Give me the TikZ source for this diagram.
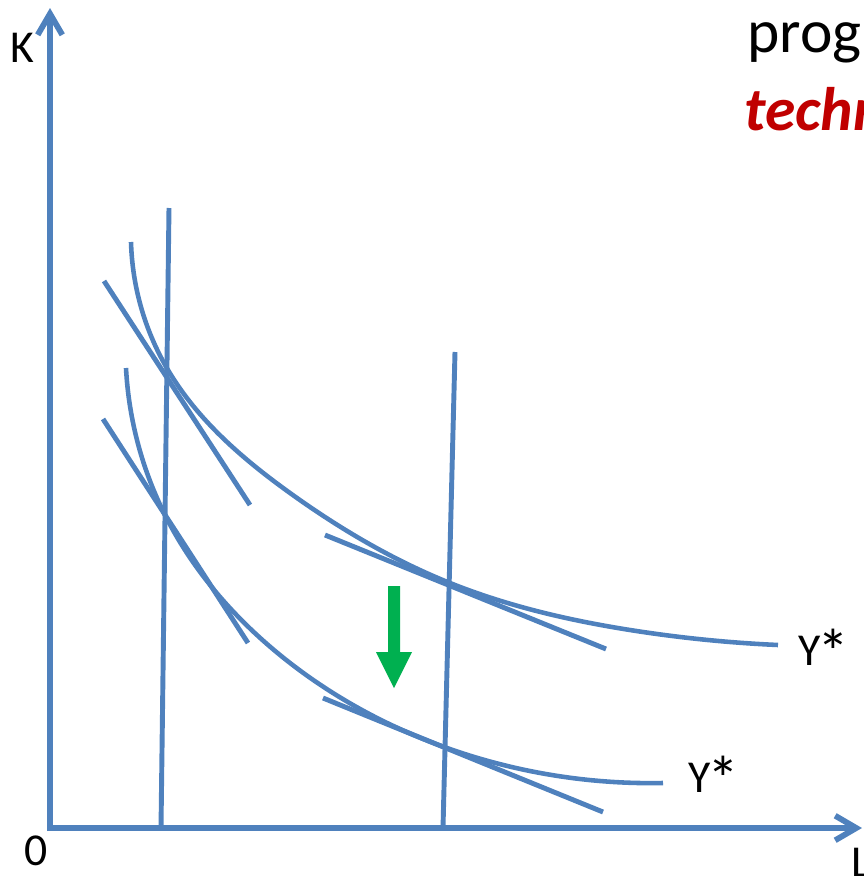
\documentclass[tikz,border=0pt]{standalone}
\usepackage{fontspec}
\setmainfont{Carlito}
\usetikzlibrary{arrows.meta,hobby}
\definecolor{axisblue}{HTML}{4F81BD}
\definecolor{shiftgreen}{HTML}{00B050}
\definecolor{titlered}{HTML}{C00000}
\newcommand{\ystar}{Y\kern-0.06em\raisebox{-0.2em}{\scalebox{1.4}{*}}}

\begin{document}
\begin{tikzpicture}[x=0.02cm, y=-0.02cm,
  axisline/.style={line width=3.3pt, draw=axisblue, -{Straight Barb[length=12pt, width=14pt]}},
  isoline/.style={line width=2.6pt, draw=axisblue, use Hobby shortcut},
  tanline/.style={line width=2.8pt, draw=axisblue},
  lbl/.style={anchor=base west, inner sep=0pt, font=\fontsize{26}{30}\selectfont},
  head/.style={anchor=base west, inner sep=0pt, font=\fontsize{35}{40}\selectfont}]
\useasboundingbox (0,0) rectangle (863,876);

% Axes
\coordinate (origin) at (50,831);
\coordinate (ktip) at (50,8);
\coordinate (xstart) at (47,828);
\coordinate (ltip) at (862,828);
\draw[axisline] (origin) -- (ktip);
\draw[axisline] (xstart) -- (ltip);
\node[lbl] (klbl) at (10,62) {K};
\node[lbl] (zero) at (24,865) {0};
\node[lbl] (llbl) at (851,877) {L};

% Heading (cut off at the right edge)
\node[head] (prog) at (747,52) {prog};
\node[head, text=titlered, font=\fontsize{35}{40}\selectfont\bfseries\itshape] (techn) at (744,130) {techn};

% Isoquants
\draw[isoline] (131,242) .. (168,370) .. (290,493) .. (450,583) .. (630,630) .. (778,645);
\draw[isoline] (126,368) .. (166,517) .. (280,655) .. (447,748) .. (663,783);
\node[lbl] (yup) at (798,665) {\ystar};
\node[lbl] (ylow) at (688,792) {\ystar};

% Vertical lines
\coordinate (va) at (169,208);
\coordinate (vab) at (161,828);
\coordinate (vb) at (455,352);
\coordinate (vbb) at (443,828);
\draw[tanline] (va) -- (vab);
\draw[tanline] (vb) -- (vbb);

% Tangent lines
\coordinate (ta1) at (104,281);
\coordinate (ta2) at (250,505);
\coordinate (tb1) at (325,535);
\coordinate (tb2) at (606,649);
\coordinate (tc1) at (103,419);
\coordinate (tc2) at (248,643);
\coordinate (td1) at (323,698);
\coordinate (td2) at (603,812);
\draw[tanline] (ta1) -- (ta2);
\draw[tanline] (tb1) -- (tb2);
\draw[tanline] (tc1) -- (tc2);
\draw[tanline] (td1) -- (td2);

% Shift arrow
\fill[shiftgreen] (388,586) -- (400,586) -- (400,652) -- (412,652) -- (394,688) -- (376,652) -- (388,652) -- cycle;
\end{tikzpicture}
\end{document}
